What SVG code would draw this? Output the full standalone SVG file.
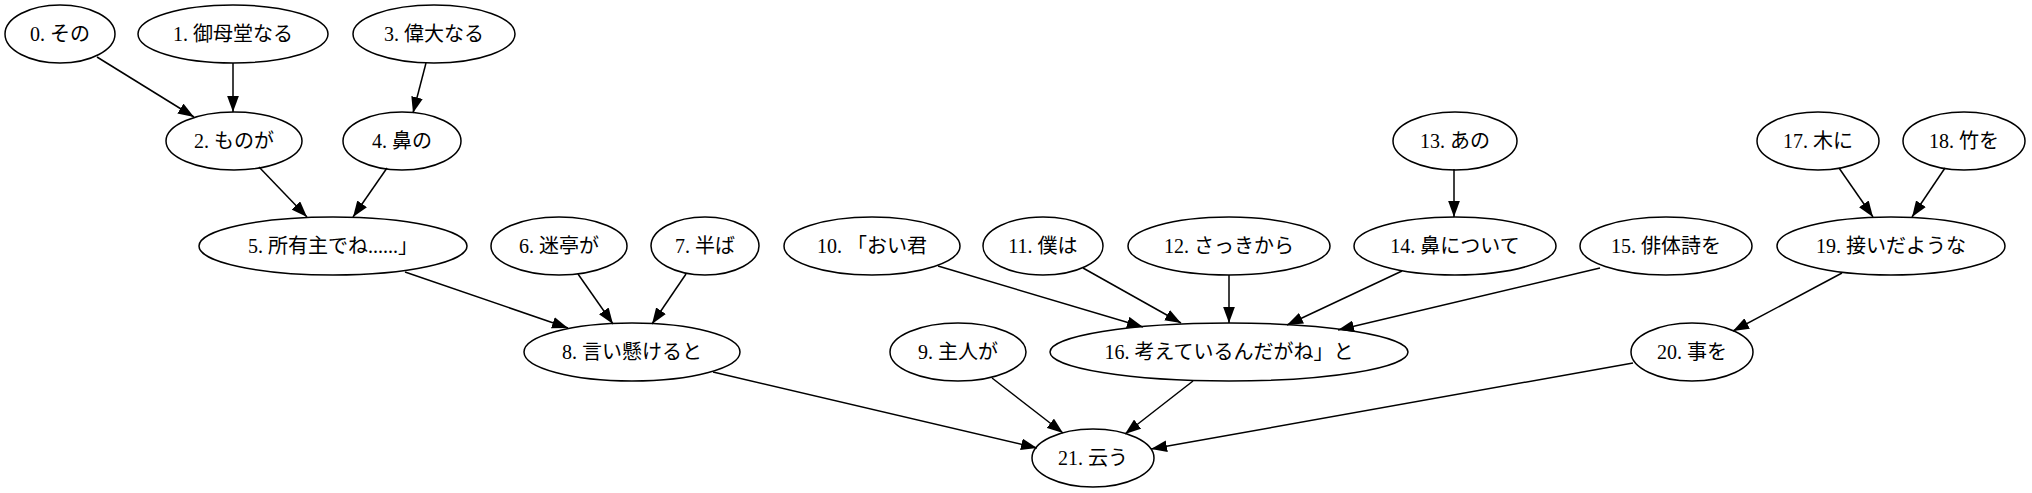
<svg xmlns="http://www.w3.org/2000/svg" width="2032" height="493" viewBox="0 0 2032 493">
<style>
.n ellipse{fill:none;stroke:#000;stroke-width:1.5}
.n text{font-family:"Liberation Serif","Noto Sans CJK JP",serif;font-size:20px;text-anchor:middle;fill:#000}
.e line{stroke:#000;stroke-width:1.5;marker-end:url(#arr)}
</style>
<defs>
<marker id="arr" markerUnits="userSpaceOnUse" markerWidth="16" markerHeight="12" viewBox="0 0 15 11" refX="15" refY="5.5" orient="auto">
<path d="M0,0 L15,5.5 L0,11 z" fill="#000"/>
</marker>
</defs>
<rect width="2032" height="493" fill="#fff"/>
<g class="e" id="edges">
<line x1="97" y1="57" x2="194" y2="117"/>
<line x1="233" y1="63" x2="233" y2="112"/>
<line x1="426" y1="63" x2="413" y2="113"/>
<line x1="259" y1="167" x2="307" y2="217"/>
<line x1="387" y1="168" x2="353" y2="217"/>
<line x1="405" y1="272" x2="568" y2="328"/>
<line x1="578" y1="274" x2="613" y2="324"/>
<line x1="686" y1="274" x2="652" y2="324"/>
<line x1="938" y1="266" x2="1143" y2="327"/>
<line x1="1083" y1="268" x2="1181" y2="323"/>
<line x1="1229" y1="275" x2="1229" y2="323"/>
<line x1="1454" y1="169" x2="1454" y2="217"/>
<line x1="1402" y1="271" x2="1287" y2="325"/>
<line x1="1600" y1="268" x2="1338" y2="330"/>
<line x1="1839" y1="168" x2="1873" y2="217"/>
<line x1="1945" y1="168" x2="1912" y2="217"/>
<line x1="1842" y1="273" x2="1733" y2="331"/>
<line x1="713" y1="372" x2="1037" y2="448"/>
<line x1="992" y1="378" x2="1063" y2="433"/>
<line x1="1193" y1="381" x2="1125" y2="434"/>
<line x1="1633" y1="363" x2="1151" y2="449"/>
</g>
<g class="n" id="n0"><ellipse cx="60" cy="34" rx="55" ry="29"/><text x="60" y="41">0. その</text></g>
<g class="n" id="n1"><ellipse cx="233" cy="34" rx="95" ry="29"/><text x="233" y="41">1. 御母堂なる</text></g>
<g class="n" id="n3"><ellipse cx="434" cy="34" rx="81" ry="29"/><text x="434" y="41">3. 偉大なる</text></g>
<g class="n" id="n2"><ellipse cx="234" cy="141" rx="68" ry="29"/><text x="234" y="148">2. ものが</text></g>
<g class="n" id="n4"><ellipse cx="402" cy="141" rx="59" ry="29"/><text x="402" y="148">4. 鼻の</text></g>
<g class="n" id="n13"><ellipse cx="1455" cy="141" rx="62" ry="29"/><text x="1455" y="148">13. あの</text></g>
<g class="n" id="n17"><ellipse cx="1818" cy="141" rx="61" ry="29"/><text x="1818" y="148">17. 木に</text></g>
<g class="n" id="n18"><ellipse cx="1964" cy="141" rx="61" ry="29"/><text x="1964" y="148">18. 竹を</text></g>
<g class="n" id="n5"><ellipse cx="333" cy="246" rx="134" ry="29"/><text x="333" y="253">5. 所有主でね......」</text></g>
<g class="n" id="n6"><ellipse cx="559" cy="246" rx="68" ry="29"/><text x="559" y="253">6. 迷亭が</text></g>
<g class="n" id="n7"><ellipse cx="705" cy="246" rx="54" ry="29"/><text x="705" y="253">7. 半ば</text></g>
<g class="n" id="n10"><ellipse cx="872" cy="246" rx="88" ry="29"/><text x="872" y="253">10. 「おい君</text></g>
<g class="n" id="n11"><ellipse cx="1043" cy="246" rx="60" ry="29"/><text x="1043" y="253">11. 僕は</text></g>
<g class="n" id="n12"><ellipse cx="1229" cy="246" rx="101" ry="29"/><text x="1229" y="253">12. さっきから</text></g>
<g class="n" id="n14"><ellipse cx="1455" cy="246" rx="101" ry="29"/><text x="1455" y="253">14. 鼻について</text></g>
<g class="n" id="n15"><ellipse cx="1666" cy="246" rx="86" ry="29"/><text x="1666" y="253">15. 俳体詩を</text></g>
<g class="n" id="n19"><ellipse cx="1891" cy="246" rx="114" ry="29"/><text x="1891" y="253">19. 接いだような</text></g>
<g class="n" id="n8"><ellipse cx="632" cy="352" rx="108" ry="29"/><text x="632" y="359">8. 言い懸けると</text></g>
<g class="n" id="n9"><ellipse cx="958" cy="352" rx="68" ry="29"/><text x="958" y="359">9. 主人が</text></g>
<g class="n" id="n16"><ellipse cx="1229" cy="352" rx="179" ry="29"/><text x="1229" y="359">16. 考えているんだがね」と</text></g>
<g class="n" id="n20"><ellipse cx="1692" cy="352" rx="61" ry="29"/><text x="1692" y="359">20. 事を</text></g>
<g class="n" id="n21"><ellipse cx="1093" cy="458" rx="61" ry="29"/><text x="1093" y="465">21. 云う</text></g>
</svg>
